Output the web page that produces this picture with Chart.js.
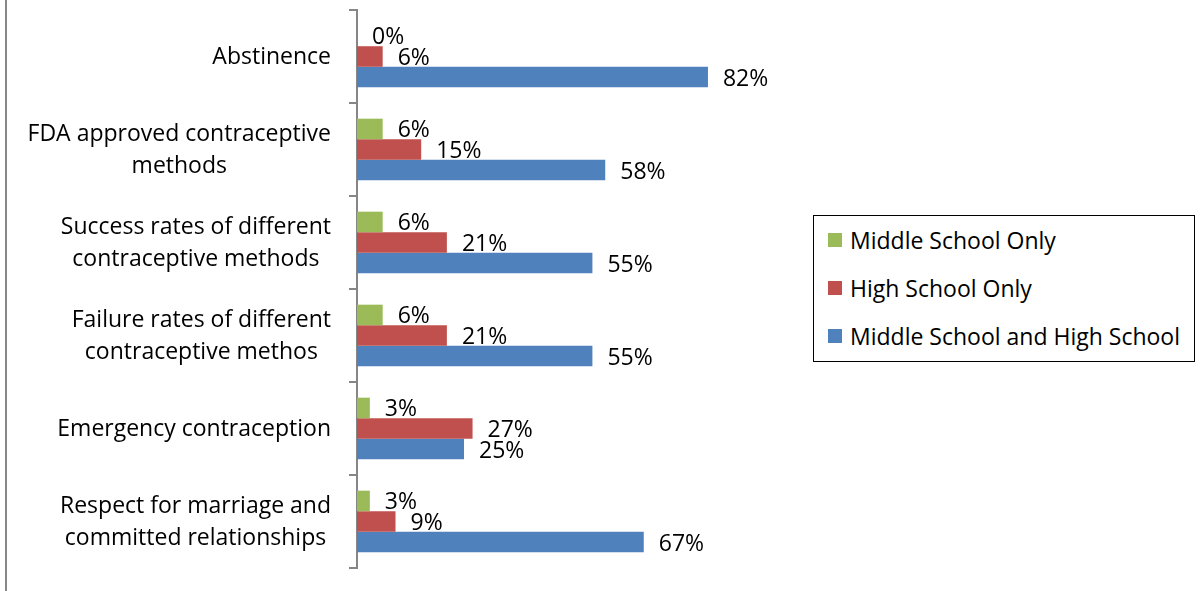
<!DOCTYPE html>
<html lang="en">
<head>
  <meta charset="UTF-8">
  <title>Topics taught</title>
  <script src="https://cdn.jsdelivr.net/npm/chart.js"></script>
  <style>
    html, body { margin: 0; padding: 0; background: #fff; }
    #wrap { position: relative; width: 1200px; height: 591px; font-family: "Open Sans", sans-serif; }
    #frame { position: absolute; left: 5px; top: 0; width: 2px; height: 591px; background: #878787; }
    #legend {
      position: absolute; left: 813px; top: 215px; width: 382px; height: 147px;
      box-sizing: border-box; border: 1px solid #000; background: #fff;
    }
    .item { height: 48px; display: flex; align-items: center; padding-left: 14px; font-size: 23px; color: #000; }
    .swatch { width: 14px; height: 14px; margin-right: 8px; }
  </style>
</head>
<body>
  <div id="wrap">
    <canvas id="chart" width="1200" height="591"></canvas>
    <div id="frame"></div>
    <div id="legend"></div>
  </div>

  <script>
    // data (percent)
    const categories = [
      ['Abstinence'],
      ['FDA approved contraceptive', 'methods'],
      ['Success rates of different', 'contraceptive methods'],
      ['Failure rates of different', 'contraceptive methos'],
      ['Emergency contraception'],
      ['Respect for marriage and', 'committed relationships']
    ];
    const middleOnly = [0, 6, 6, 6, 3, 3];
    const highOnly = [6, 15, 21, 21, 27, 9];
    const bothSchools = [82, 58, 55, 55, 25, 67];

    const seriesNames = ['Middle School Only', 'High School Only', 'Middle School and High School'];
    const seriesColors = ['#9BBB59', '#C0504D', '#4F81BD'];

    const FONT = '23px "Open Sans", sans-serif';

    // category labels: block right-aligned, lines centered inside the block
    const categoryLabels = {
      id: 'categoryLabels',
      afterDraw(chart) {
        const ctx = chart.ctx;
        const y = chart.scales.y;
        const right = 331;
        const lh = 32;
        ctx.save();
        ctx.font = FONT;
        ctx.fillStyle = '#000';
        ctx.textAlign = 'center';
        ctx.textBaseline = 'middle';
        categories.forEach((lines, i) => {
          const cy = y.getPixelForValue(i) + 1;
          const w = Math.max(...lines.map(l => ctx.measureText(l).width));
          const cx = right - w / 2;
          lines.forEach((l, k) => {
            ctx.fillText(l, cx, cy + (k - (lines.length - 1) / 2) * lh);
          });
        });
        ctx.restore();
      }
    };

    // value labels just past the end of each bar
    const valueLabels = {
      id: 'valueLabels',
      afterDatasetsDraw(chart) {
        const ctx = chart.ctx;
        ctx.save();
        ctx.font = FONT;
        ctx.fillStyle = '#000';
        ctx.textAlign = 'left';
        ctx.textBaseline = 'middle';
        chart.data.datasets.forEach((ds, di) => {
          chart.getDatasetMeta(di).data.forEach((bar, i) => {
            ctx.fillText(ds.data[i] + '%', bar.x + 15, bar.y + 2);
          });
        });
        ctx.restore();
      }
    };

    const datasets = [middleOnly, highOnly, bothSchools].map((d, i) => ({
      label: seriesNames[i],
      data: d,
      backgroundColor: seriesColors[i],
      categoryPercentage: 0.663,
      barPercentage: 1.0
    }));

    // html legend with a box round it
    const legendEl = document.getElementById('legend');
    seriesNames.forEach((name, i) => {
      const row = document.createElement('div');
      row.className = 'item';
      row.innerHTML = '<span class="swatch" style="background:' + seriesColors[i] + '"></span>' + name;
      legendEl.appendChild(row);
    });

    function draw() {
      new Chart(document.getElementById('chart'), {
        type: 'bar',
        data: { labels: categories.map(c => c.join(' ')), datasets: datasets },
        options: {
          indexAxis: 'y',
          responsive: false,
          animation: false,
          layout: { padding: { top: 10, bottom: 23, left: 0, right: 415 } },
          plugins: { legend: { display: false }, tooltip: { enabled: false } },
          scales: {
            x: { display: false, min: 0, max: 100 },
            y: {
              offset: true,
              grid: { offset: true, drawOnChartArea: false, drawTicks: true, tickLength: 8, color: '#868686', lineWidth: 2 },
              border: { display: true, color: '#868686', width: 2 },
              ticks: { display: false },
              afterFit: s => { s.width = 357; }
            }
          }
        },
        plugins: [categoryLabels, valueLabels]
      });
    }

    document.fonts.load(FONT).then(draw, draw);
  </script>
</body>
</html>
